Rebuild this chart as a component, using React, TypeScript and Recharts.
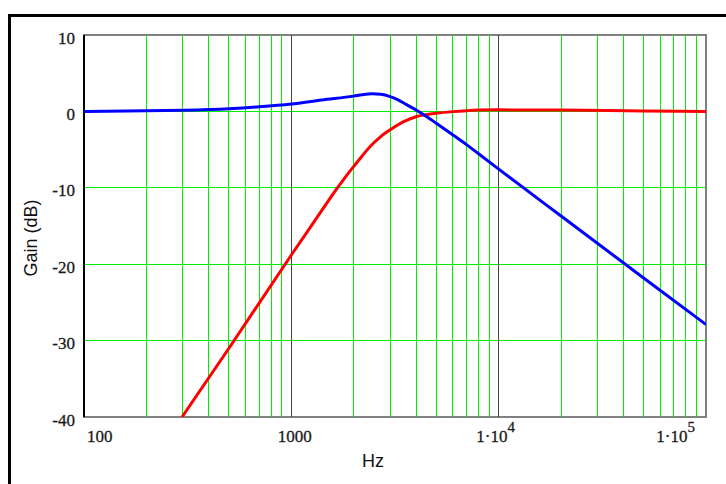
import { LineChart, Line, XAxis, YAxis, ReferenceLine, ReferenceArea } from 'recharts';

// blue curve (low-pass with a small peak)
const blueHz = [100, 200, 300, 500, 700, 1000, 1400, 2000, 2200, 2450, 2700, 3000, 3250, 3500, 4000, 4500, 5000, 6000, 7000, 8000, 10000, 20000, 50000, 100000];
const blueDb = [0.0, 0.08, 0.15, 0.35, 0.6, 0.97, 1.5, 2.0, 2.18, 2.3, 2.24, 1.93, 1.53, 1.06, 0.18, -0.7, -1.55, -3.05, -4.35, -5.55, -7.55, -13.7, -21.8, -27.9];

// red curve (high-pass)
const redHz = [297, 500, 1000, 1400, 1600, 1800, 2000, 2200, 2400, 2700, 3000, 3500, 4000, 5000, 6000, 7000, 8000, 10000, 20000, 50000, 100000];
const redDb = [-40, -31, -18.8, -13.0, -10.7, -8.8, -7.2, -5.8, -4.6, -3.3, -2.4, -1.3, -0.7, -0.25, -0.03, 0.1, 0.17, 0.2, 0.18, 0.05, 0.0];

const hzTicks = [100, 1000, 10000, 100000];
const gainTicks = [-40, -30, -20, -10, 0, 10];
const minorHz = [200, 300, 400, 500, 600, 700, 800, 900, 2000, 3000, 4000, 5000, 6000, 7000, 8000, 9000, 20000, 30000, 40000, 50000, 60000, 70000, 80000, 90000];
const decadeHz = [1000, 10000];
const gainGrid = [-30, -20, -10, 0];

const blueData = blueHz.map((hz, i) => ({ hz, db: blueDb[i] }));
const redData = redHz.map((hz, i) => ({ hz, db: redDb[i] }));

const serif = '"Liberation Serif", "Times New Roman", serif';
const sans = '"Liberation Sans", Arial, sans-serif';
const green = '#00ee00';
const tickText = { fontFamily: serif, fontSize: 17, fill: '#1a1a1a', stroke: '#1a1a1a', strokeWidth: 0.3 };

const HzTick = (props: any) => {
  const { x, y, payload, index } = props;
  const v = payload.value as number;
  const last = index === hzTicks.length - 1;
  if (v < 10000) {
    return (
      <text x={index === 0 ? x + 3 : x + 3.5} y={y + 25} textAnchor={index === 0 ? 'start' : 'middle'} style={tickText}>
        {String(v)}
      </text>
    );
  }
  const exp = Math.round(Math.log10(v));
  return (
    <text x={last ? x - 11 : x - 3} y={y + 25} textAnchor={last ? 'end' : 'middle'} style={tickText}>
      <tspan>1·10</tspan>
      <tspan dy={-10} fontSize={15}>{exp}</tspan>
    </text>
  );
};

const GainTick = (props: any) => {
  const { x, y, payload } = props;
  return (
    <text x={x} y={y + 8.5} textAnchor="end" style={tickText}>
      {String(payload.value)}
    </text>
  );
};

export default function App() {
  return (
    <div style={{ position: 'fixed', left: 0, top: 0, width: 726, height: 484, overflow: 'hidden', background: '#fff' }}>
      <div style={{ position: 'absolute', left: 8, top: 14, width: 780, height: 540, border: '3px solid #000' }} />
      <div style={{ position: 'absolute', left: 0, top: 0 }}>
        <LineChart width={726} height={484} margin={{ top: 35, right: 20, bottom: 0, left: 0 }}>
          <XAxis
            dataKey="hz"
            type="number"
            scale="log"
            domain={[100, 100000]}
            allowDataOverflow
            ticks={hzTicks}
            interval={0}
            tickLine={false}
            axisLine={false}
            tickSize={0}
            tickMargin={0}
            height={67}
            tick={<HzTick />}
            label={({ viewBox }: any) => (
              <text x={viewBox.x + viewBox.width / 2 - 22} y={viewBox.y + 50} textAnchor="middle"
                style={{ fontFamily: sans }} fontSize={18} fill="#111">Hz</text>
            )}
          />
          <YAxis
            type="number"
            domain={[-40, 10]}
            allowDataOverflow
            ticks={gainTicks}
            interval={0}
            tickLine={false}
            axisLine={false}
            tickSize={0}
            tickMargin={9}
            width={84}
            tick={<GainTick />}
            label={({ viewBox }: any) => (
              <text x={36.5} y={viewBox.y + viewBox.height / 2 + 12}
                transform={`rotate(-90, 36.5, ${viewBox.y + viewBox.height / 2 + 12})`}
                textAnchor="middle" style={{ fontFamily: sans }} fontSize={18} fill="#111">Gain (dB)</text>
            )}
          />
          {minorHz.map((v) => (
            <ReferenceLine key={`m${v}`} x={v} stroke={green} strokeWidth={1} shapeRendering="crispEdges" />
          ))}
          {gainGrid.map((v) => (
            <ReferenceLine key={`g${v}`} y={v} stroke={green} strokeWidth={1} shapeRendering="crispEdges" />
          ))}
          {decadeHz.map((v) => (
            <ReferenceLine key={`d${v}`} x={v} stroke="#444" strokeWidth={1} shapeRendering="crispEdges" />
          ))}
          <ReferenceArea x1={100} x2={100000} y1={-40} y2={10} fill="none" stroke="#808080" strokeWidth={1.5} shapeRendering="crispEdges" />
          <ReferenceLine x={100} stroke="#000" strokeWidth={1.5} shapeRendering="crispEdges" />
          <Line data={redData} dataKey="db" type="monotone" stroke="#ff0000" strokeWidth={3} dot={false} isAnimationActive={false} />
          <Line data={blueData} dataKey="db" type="monotone" stroke="#0000ff" strokeWidth={3} dot={false} isAnimationActive={false} />
        </LineChart>
      </div>
    </div>
  );
}
